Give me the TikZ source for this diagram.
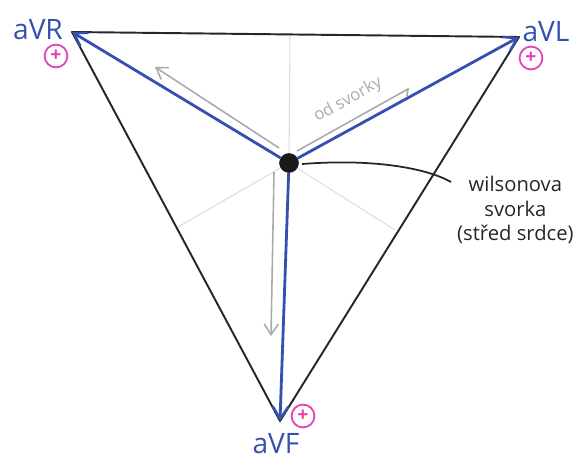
\documentclass[tikz,border=0pt]{standalone}
\usepackage{fontspec}
\setmainfont{Open Sans}
\usetikzlibrary{arrows.meta}
\definecolor{penblue}{HTML}{3550B0}
\definecolor{penpink}{HTML}{E040B8}
\definecolor{pengray}{HTML}{AAAAAA}
\definecolor{faint}{HTML}{DDDDDD}
\tikzset{
  x=0.02cm, y=-0.02cm,
  edge/.style={line width=1.1pt, black!85},
  lead/.style={line width=1.6pt, penblue, -{Straight Barb[length=7pt,width=9pt,line width=1.4pt]}},
  guide/.style={line width=0.6pt, faint},
  hint/.style={line width=0.9pt, pengray, -{Straight Barb[length=6pt,width=8pt]}},
  lbl/.style={penblue, inner sep=0pt, font=\fontsize{16}{16}\selectfont},
  plus/.style={draw=penpink, line width=1pt, circle, inner sep=0pt, minimum size=13pt, text=penpink, font=\bfseries\fontsize{11}{11}\selectfont},
  note/.style={align=center, font=\fontsize{11.5}{14}\selectfont, text=black!85}
}
\begin{document}
\begin{tikzpicture}
\useasboundingbox (0,0) rectangle (573,459);
\coordinate (R) at (72,32);
\coordinate (L) at (519,37);
\coordinate (F) at (280,421);
\node[circle, fill=black!90, inner sep=0pt, minimum size=11pt] (C) at (289,163) {};
% perpendicular guides
\coordinate (gt) at (290,35);
\coordinate (gl) at (178,227);
\coordinate (gr) at (395,230);
\draw[guide] (C) -- (gt);
\draw[guide] (C) -- (gl);
\draw[guide] (C) -- (gr);
% triangle
\draw[edge, line join=round] (R) -- (L) -- (F) -- cycle;
% gray hint arrows
\coordinate (h1s) at (279,148);
\coordinate (h1e) at (155,67);
\draw[hint] (h1s) -- (h1e);
\coordinate (h2s) at (274,172);
\coordinate (h2e) at (271,336);
\draw[hint] (h2s) -- (h2e);
\coordinate (h3s) at (297,151);
\coordinate (h3e) at (408,89);
\draw[line width=0.9pt, pengray] (h3s) -- (h3e) -- ++(-1,7);
\node[text=pengray, rotate=29, inner sep=0pt, font=\fontsize{9.5}{9.5}\selectfont] (od) at (348,100) {od svorky};
% blue leads
\draw[lead] (C) -- (R);
\draw[lead] (C) -- (L);
\draw[lead] (C) -- (F);
\node[circle, fill=black!90, inner sep=0pt, minimum size=11pt] at (C) {};
% labels
\node[lbl] (tR) at (38,30) {aVR};
\node[lbl] (tL) at (546,32) {aVL};
\node[lbl] (tF) at (276,444) {aVF};
\node[plus] (pR) at (56,56) {+};
\node[plus] (pL) at (531,58) {+};
\node[plus] (pF) at (303,416) {+};
% note
\node[note, anchor=north west] (W) at (451,170) {wilsonova\\svorka\\(střed srdce)};
\draw[line width=1pt, black!85] (C.east) ++(3,1) .. controls (380,158) and (430,170) .. (W.north west |- 0,182);
\end{tikzpicture}
\end{document}
